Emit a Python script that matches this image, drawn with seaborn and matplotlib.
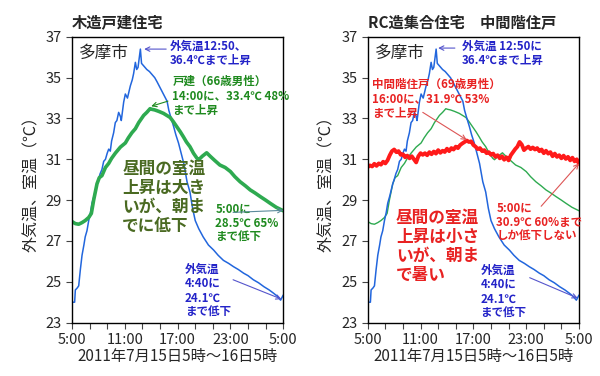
import numpy as np
import matplotlib.pyplot as plt
import seaborn as sns

# 2011年7月15日5:00からの経過時間(h)と温度(℃)
out_hours = [0.00, 0.30, 0.38, 0.60, 0.76, 0.95, 1.14, 1.35, 1.50, 1.70, 1.90, 2.10,
             2.27, 2.50, 2.84, 3.00, 3.20, 3.40, 3.60, 3.80, 4.00, 4.17, 4.35, 4.50,
             4.73, 4.92, 5.10, 5.30, 5.50, 5.60, 5.87, 6.06, 6.30, 6.63, 6.85, 7.00,
             7.20, 7.35, 7.50, 7.77, 7.90, 8.10, 8.30, 8.50, 8.80, 9.10, 9.40, 9.66,
             9.90, 10.20, 10.50, 10.80, 11.00, 11.20, 11.55, 11.80, 12.10, 12.40, 12.70,
             13.07, 13.40, 13.70, 14.00, 14.40, 14.90, 15.50, 16.10, 16.60, 17.20, 17.80,
             18.35, 18.90, 19.50, 20.00, 20.60, 21.20, 21.80, 22.40, 22.90, 23.30, 23.70, 24.00]
out_temps = [24.0, 24.0, 24.6, 24.7, 24.8, 25.6, 26.3, 26.8, 27.2, 27.5, 28.0, 28.4,
             28.85, 29.2, 29.8, 30.0, 30.3, 30.5, 30.9, 31.0, 31.3, 31.5, 31.4, 31.9,
             32.3, 32.8, 32.9, 33.3, 33.1, 32.9, 33.8, 34.2, 34.0, 34.6, 34.9, 35.2,
             35.75, 35.4, 35.5, 36.4, 35.7, 35.6, 35.5, 35.4, 35.3, 35.15, 35.0, 34.8,
             34.6, 34.35, 34.1, 33.85, 33.4, 33.1, 32.6, 32.2, 31.8, 31.3, 30.8,
             29.9, 29.4, 28.6, 28.0, 27.6, 27.2, 26.8, 26.55, 26.3, 26.05, 25.9,
             25.74, 25.6, 25.42, 25.3, 25.1, 24.95, 24.76, 24.6, 24.44, 24.3, 24.1, 24.35]

wood_hours = [0.00, 0.38, 0.76, 1.14, 1.50, 1.90, 2.20, 2.46, 2.84, 3.10, 3.40, 3.80,
              4.17, 4.50, 4.92, 5.50, 6.06, 6.40, 6.80, 7.20, 7.58, 7.90, 8.14, 8.50,
              8.87, 9.07, 9.40, 9.85, 10.40, 11.15, 11.50, 11.90, 12.30, 12.66, 13.00,
              13.40, 13.80, 14.20, 14.40, 14.80, 15.30, 15.70, 16.20, 16.80, 17.40, 18.00,
              18.50, 19.10, 19.70, 20.25, 20.80, 21.40, 22.00, 22.50, 23.20, 24.00]
wood_temps = [27.95, 27.85, 27.82, 27.9, 28.0, 28.15, 28.35, 29.0, 29.8, 30.1, 30.2, 30.6,
              30.8, 31.05, 31.3, 31.6, 31.8, 32.05, 32.3, 32.5, 32.8, 33.0, 33.15, 33.3,
              33.48, 33.45, 33.42, 33.35, 33.25, 33.05, 32.85, 32.6, 32.35, 32.1, 31.85,
              31.62, 31.3, 31.05, 30.98, 31.15, 31.32, 31.15, 30.95, 30.72, 30.6, 30.4,
              30.15, 29.9, 29.7, 29.5, 29.35, 29.17, 29.0, 28.85, 28.65, 28.48]

rc_hours = np.arange(0, 24.01, 0.25)
rc_temps = [30.62, 30.70, 30.65, 30.78, 30.68, 30.80, 30.74, 30.88, 30.80, 30.95, 31.20, 31.40,
            31.48, 31.35, 31.40, 31.22, 31.25, 31.10, 31.18, 31.05, 31.15, 31.00, 30.85, 31.15,
            31.30, 31.22, 31.30, 31.20, 31.35, 31.25, 31.38, 31.28, 31.45, 31.32, 31.42, 31.36,
            31.52, 31.40, 31.55, 31.48, 31.62, 31.55, 31.70, 31.78, 31.85, 31.92, 31.85, 31.88,
            31.70, 31.62, 31.50, 31.55, 31.40, 31.45, 31.30, 31.35, 31.22, 31.28, 31.12, 31.20,
            31.05, 31.15, 30.98, 31.10, 30.95, 31.20, 31.35, 31.50, 31.62, 31.85, 31.72, 31.45,
            31.55, 31.62, 31.50, 31.58, 31.48, 31.55, 31.40, 31.48, 31.30, 31.42, 31.28, 31.35,
            31.15, 31.28, 31.12, 31.20, 31.05, 31.18, 31.02, 31.12, 30.95, 31.08, 30.90, 31.00,
            30.78]

tick_pos = [0, 6, 12, 18, 24]
tick_labels = ['5:00', '11:00', '17:00', '23:00', '5:00']
titles = ['木造戸建住宅', 'RC造集合住宅　中間階住戸']

BLUE = '#2266dd'
GREEN = '#2eaa50'
RED = '#ff1a1a'
TBLUE = '#2424c8'
TGREEN = '#1f8a1f'
TRED = '#e82222'
OLIVE = '#4a6a22'

sns.set_theme(style='ticks')
plt.rcParams['font.family'] = ['Noto Sans CJK JP', 'DejaVu Sans']

fig, axes = plt.subplots(1, 2, figsize=(6, 3.76), dpi=100)
fig.subplots_adjust(left=0.12, right=0.965, bottom=0.142, top=0.902, wspace=0.40)

ax1, ax2 = axes
sns.lineplot(x=out_hours, y=out_temps, ax=ax1, color=BLUE, lw=1.1)
sns.lineplot(x=wood_hours, y=wood_temps, ax=ax1, color=GREEN, lw=2.6)

sns.lineplot(x=wood_hours, y=wood_temps, ax=ax2, color=GREEN, lw=1.0)
sns.lineplot(x=out_hours, y=out_temps, ax=ax2, color=BLUE, lw=1.1)
sns.lineplot(x=rc_hours, y=rc_temps, ax=ax2, color=RED, lw=2.8)

for ax, title in zip(axes, titles):
    ax.set_xlim(0, 24)
    ax.set_ylim(23, 37)
    ax.set_yticks(range(23, 38, 2))
    ax.set_xticks(tick_pos)
    ax.set_xticklabels(tick_labels)
    ax.set_xticks(range(0, 25, 2), minor=True)
    ax.tick_params(axis='both', which='both', direction='out', length=4, width=0.8,
                   labelsize=10.5, color='#444444')
    for sp in ax.spines.values():
        sp.set_visible(True)
        sp.set_color('black')
        sp.set_linewidth(1.0)
    ax.set_title(title, loc='left', fontsize=11, fontweight='bold', pad=7)
    ax.set_ylabel('外気温、室温（℃）', fontsize=11.5, labelpad=4)
    ax.set_xlabel('2011年7月15日5時～16日5時', fontsize=11, labelpad=1)
    ax.text(0.8, 36.2, '多摩市', fontsize=12, va='center', ha='left')

small = dict(fontsize=8.3, fontweight='bold', linespacing=1.15, va='top', ha='left')

def arrow(ax, text, xy, xytext, color, tcolor, pos=None):
    ax.annotate('', xy=xy, xytext=xytext,
                arrowprops=dict(arrowstyle='->', color=color, lw=0.8, mutation_scale=8,
                                shrinkA=0, shrinkB=0))

# 左：木造戸建住宅
ax1.text(11.1, 36.85, '外気温12:50、\n36.4℃まで上昇', color=TBLUE, **small)
arrow(ax1, '', (8.2, 36.4), (10.7, 36.4), '#5555cc', TBLUE)
ax1.text(11.4, 35.15, '戸建（66歳男性）\n14:00に、33.4℃ 48%\nまで上昇', color=TGREEN, **small)
arrow(ax1, '', (9.0, 33.6), (10.9, 33.85), TGREEN, TGREEN)
ax1.text(5.7, 30.95, '昼間の室温\n上昇は大き\nいが、朝ま\nでに低下', color=OLIVE,
         fontsize=12, fontweight='bold', linespacing=1.05, va='top', ha='left')
ax1.text(16.3, 28.9, '5:00に\n28.5℃ 65%\nまで低下', color=TGREEN, **small)
arrow(ax1, '', (24.0, 28.5), (18.3, 28.4), '#5a8a9a', TGREEN)
ax1.text(12.8, 25.95, '外気温\n4:40に\n24.1℃\nまで低下', color=TBLUE, **small)
arrow(ax1, '', (23.8, 24.15), (18.3, 25.1), '#5555cc', TBLUE)

# 右：RC造集合住宅
ax2.text(10.7, 36.85, '外気温 12:50に\n36.4℃まで上昇', color=TBLUE, **small)
arrow(ax2, '', (8.0, 36.45), (9.9, 36.45), '#5555cc', TBLUE)
ax2.text(0.5, 35.0, '中間階住戸（69歳男性）\n16:00に、31.9℃ 53%\nまで上昇', color=TRED, **small)
arrow(ax2, '', (11.25, 31.95), (6.25, 33.3), '#dd5555', TRED)
ax2.text(3.2, 28.55, '昼間の室温\n上昇は小さ\nいが、朝ま\nで暑い', color=TRED,
         fontsize=12, fontweight='bold', linespacing=1.05, va='top', ha='left')
ax2.text(14.6, 28.95, '5:00に\n30.9℃ 60%まで\nしか低下しない', color=TRED, **small)
arrow(ax2, '', (24.0, 30.8), (19.7, 28.7), '#dd5555', TRED)
ax2.text(12.8, 25.9, '外気温\n4:40に\n24.1℃\nまで低下', color=TBLUE, **small)
arrow(ax2, '', (23.85, 24.2), (18.4, 25.2), '#5555cc', TBLUE)

fig.savefig('out.png', dpi=100)
